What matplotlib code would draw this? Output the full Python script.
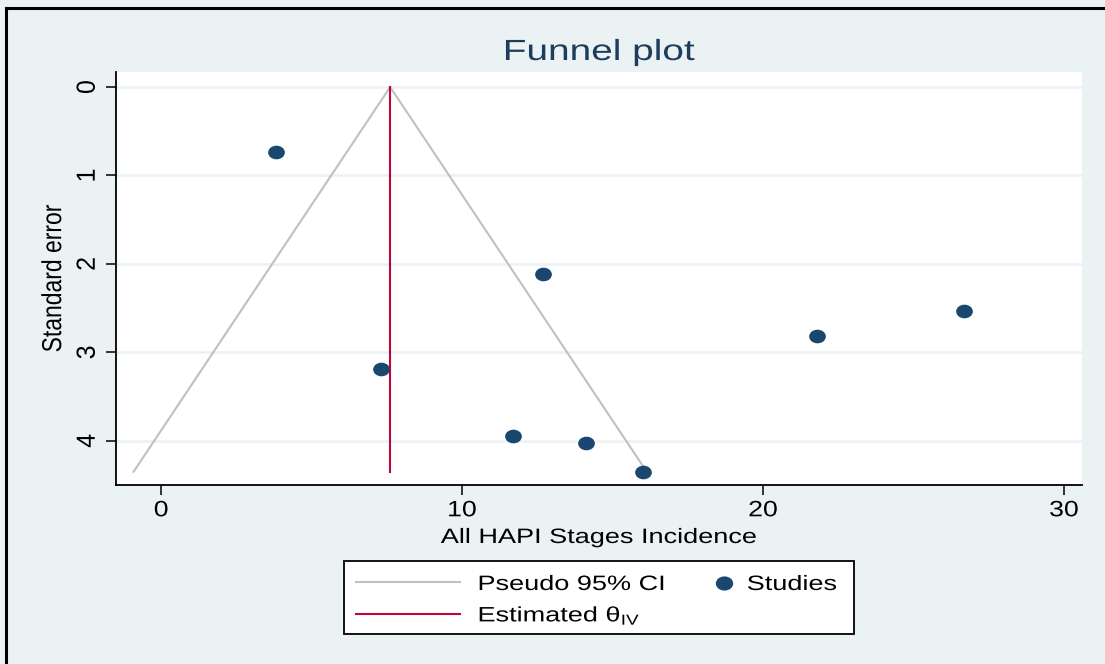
import numpy as np
import matplotlib.pyplot as plt
from matplotlib.lines import Line2D
from matplotlib.patches import Rectangle
from matplotlib.path import Path
from matplotlib.transforms import Affine2D
from matplotlib.patheffects import AbstractPathEffect

plt.rcParams['font.family'] = ['Liberation Sans', 'DejaVu Sans']
plt.rcParams['mathtext.fontset'] = 'custom'
plt.rcParams['mathtext.rm'] = 'Liberation Sans'
plt.rcParams['mathtext.it'] = 'Liberation Sans'

# study estimates and their standard errors
incidence = [3.82, 12.69, 26.68, 21.79, 7.31, 11.69, 14.12, 16.01]
std_err = [0.73, 2.11, 2.53, 2.82, 3.19, 3.95, 4.03, 4.35]

theta_iv = 7.61  # pooled inverse-variance estimate
z95 = 1.96

x_ticks = [0, 10, 20, 30]
y_ticks = [0, 1, 2, 3, 4]
legend_labels = ['Pseudo 95% CI', r'Estimated $\mathrm{θ}_{\mathrm{IV}}$', 'Studies']

bg = '#eaf2f3'
navy = '#1a476f'
red = '#c10534'
grey = '#c0c0c0'
W, H = 1105, 664


class StretchX(AbstractPathEffect):
    """Widen text horizontally around a fixed point of its extent."""

    def __init__(self, sx, anchor=0.5):
        super().__init__()
        self.sx = sx
        self.anchor = anchor

    def draw_path(self, renderer, gc, tpath, affine, rgbFace=None):
        ext = affine.transform_path(tpath).get_extents()
        cx = ext.x0 + self.anchor * ext.width
        aff = affine + Affine2D().translate(-cx, 0).scale(self.sx, 1).translate(cx, 0)
        renderer.draw_path(gc, tpath, aff, rgbFace)


def px(x, y):
    return x / W, 1 - y / H


# slightly wide oval marker
oval = Affine2D().scale(1.25, 1).transform_path(Path.unit_circle())

fig = plt.figure(figsize=(W / 100, H / 100), dpi=100, facecolor=bg)
ax = fig.add_axes([116 / W, 1 - 485 / H, 966 / W, 413 / H])
ax.set_facecolor('white')

# pseudo 95% confidence funnel
se_max = max(std_err)
ax.plot([theta_iv - z95 * se_max, theta_iv, theta_iv + z95 * se_max],
        [se_max, 0, se_max], color=grey, lw=1.5, zorder=2)
ax.plot([theta_iv, theta_iv], [0, se_max], color=red, lw=1.5, zorder=3)
ax.plot(incidence, std_err, ls='none', marker=oval, color=navy, ms=11, zorder=4)

ax.set_xlim(-1.5, 30.6)
ax.set_ylim(4.5, -0.17)
ax.set_xticks(x_ticks)
ax.set_yticks(y_ticks)
ax.grid(axis='y', color=bg, lw=1.8)
ax.set_axisbelow(True)

for s in ['top', 'right']:
    ax.spines[s].set_visible(False)
for s in ['left', 'bottom']:
    ax.spines[s].set_linewidth(1.3)

ax.tick_params(axis='both', direction='out', length=7, width=1.1)
ax.tick_params(axis='x', pad=4, labelsize=16)
ax.tick_params(axis='y', pad=5, labelsize=18)
for lab in ax.get_xticklabels():
    lab.set_path_effects([StretchX(1.2)])
for lab in ax.get_yticklabels():
    lab.set_rotation(90)
    lab.set_va('center')
    lab.set_path_effects([StretchX(1.05)])

xl = ax.set_xlabel('All HAPI Stages Incidence', fontsize=15, va='baseline')
ax.xaxis.set_label_coords(0.5, -(543 - 485) / 413)
xl.set_path_effects([StretchX(1.3)])
yl = ax.set_ylabel('Standard error', fontsize=16.5, va='center')
ax.yaxis.set_label_coords((53 - 116) / 966, 0.5)
yl.set_path_effects([StretchX(1.2)])

t = fig.text(*px(599, 60), 'Funnel plot', ha='center', va='baseline',
             fontsize=21, color='#1e3d5c')
t.set_path_effects([StretchX(1.33)])

# legend box
fig.add_artist(Rectangle(px(344, 634), 510 / W, 73 / H, transform=fig.transFigure,
                         facecolor='white', edgecolor='black', lw=1.3))
for yy, col in [(582, grey), (613.5, red)]:
    fig.add_artist(Line2D([px(356, 0)[0], px(460, 0)[0]], [px(0, yy)[1]] * 2,
                          color=col, lw=1.5, transform=fig.transFigure))
fig.add_artist(Line2D([px(724, 0)[0]], [px(0, 582.5)[1]], ls='none', marker=oval,
                      ms=11.5, color=navy, transform=fig.transFigure))
for (xx, yy), lab in zip([(478, 590), (478, 621.5), (747, 590)], legend_labels):
    tx = fig.text(*px(xx, yy), lab, ha='left', va='baseline', fontsize=15)
    tx.set_path_effects([StretchX(1.3, anchor=0)])

# outer frame on the left and top edges
fig.add_artist(Line2D([0.0055, 0.0055], [0, 0.988], color='black', lw=2.2,
                      transform=fig.transFigure))
fig.add_artist(Line2D([0.0055, 1], [0.988, 0.988], color='black', lw=2.2,
                      transform=fig.transFigure))

fig.savefig('out.png', dpi=100, facecolor=bg)
